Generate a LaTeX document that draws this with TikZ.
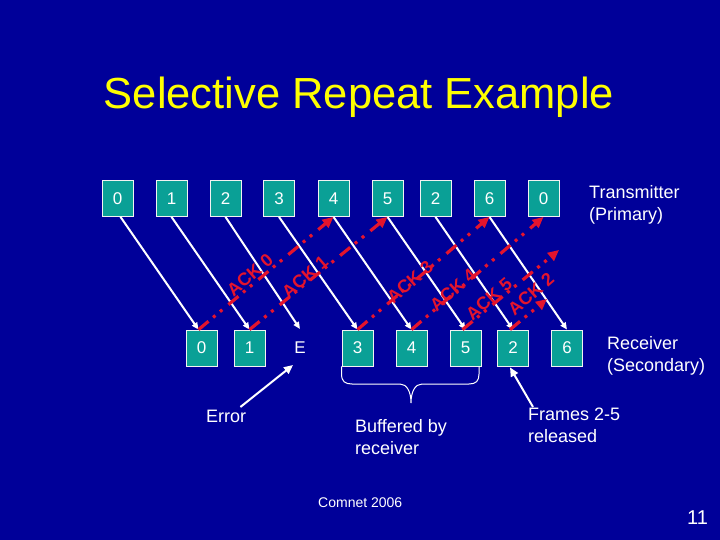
\documentclass[tikz,border=0pt]{standalone}
\usepackage{fontspec}
\setmainfont{Liberation Sans}
\usetikzlibrary{arrows.meta,calc}
\definecolor{bgblue}{RGB}{0,0,153}
\definecolor{boxteal}{RGB}{10,160,150}
\definecolor{ackred}{RGB}{228,20,45}
\definecolor{titleyellow}{RGB}{255,255,0}
\begin{document}
\begin{tikzpicture}[x=1pt,y=-1pt,
  frame/.style={draw=white!90!gray, line width=0.8pt, fill=boxteal, minimum width=31pt,
    minimum height=36pt, inner sep=0pt, text=white, font=\fontsize{17}{20}\selectfont},
  data/.style={draw=white, line width=2pt, -{Triangle[length=7pt,width=6pt]}},
  ack/.style={draw=ackred, line width=3.2pt,
    dash pattern=on 13pt off 6pt on 3pt off 6pt on 3pt off 8pt,
    -{Triangle[length=11pt,width=10pt]}},
  acklabel/.style={text=ackred, rotate=41, font=\fontsize{18}{20}\selectfont\bfseries, inner sep=0pt},
  caption/.style={text=white, font=\fontsize{18}{22}\selectfont, align=left, inner sep=0pt, anchor=north west},
  note/.style={draw=white, line width=2pt, -{Triangle[length=9pt,width=8pt]}}
]
\fill[bgblue] (0,0) rectangle (720,540);
\useasboundingbox (0,0) rectangle (720,540);

% title
\node[anchor=base, text=titleyellow, font=\fontsize{43.5}{48}\selectfont, inner sep=0pt] (title) at (359,109) {Selective Repeat Example};

% top row (transmitter)
\node[frame] (t0)  at (117.5,198.5) {0};
\node[frame] (t1)  at (171.5,198.5) {1};
\node[frame] (t2)  at (225.5,198.5) {2};
\node[frame] (t3)  at (279,198.5) {3};
\node[frame] (t4)  at (333.5,198.5) {4};
\node[frame] (t5)  at (387.5,198.5) {5};
\node[frame] (t2b) at (435.5,198.5) {2};
\node[frame] (t6)  at (489.5,198.5) {6};
\node[frame] (t0b) at (543.5,198.5) {0};

% bottom row (receiver)
\node[frame] (b0) at (201.5,348) {0};
\node[frame] (b1) at (249.5,348) {1};
\node[text=white, font=\fontsize{17}{20}\selectfont, inner sep=0pt] (bE) at (300,348) {E};
\node[frame] (b3) at (357.5,348) {3};
\node[frame] (b4) at (411.5,348) {4};
\node[frame] (b5) at (465.5,348) {5};
\node[frame] (b2) at (513,348) {2};
\node[frame] (b6) at (567,348) {6};
\coordinate (eTop) at (300,329);
\coordinate (ack5end) at (559,250);
\coordinate (ack2end) at (547,299);

% data frames
\draw[data] ($(t0.south)+(3,0)$) -- ($(b0.north)+(-3,0)$);
\draw[data] (t1.south) -- (b1.north);
\draw[data] (t2.south) -- (eTop);
\draw[data] (t3.south) -- (b3.north);
\draw[data] (t4.south) -- (b4.north);
\draw[data] (t5.south) -- (b5.north);
\draw[data] (t2b.south) -- (b2.north);
\draw[data] (t6.south) -- (b6.north);

% acknowledgements
\draw[ack] ($(b0.north)+(-3,0)$) -- (t4.south);
\draw[ack] (b1.north) -- (t5.south);
\draw[ack] (b3.north) -- (t6.south);
\draw[ack] (b4.north) -- (t0b.south);
\draw[ack] ($(b5.north)+(-3,0)$) -- (ack5end);
\draw[ack] ($(b2.north)+(-3,0)$) -- (ack2end);

\node[acklabel] (l0) at (250,275) {ACK 0};
\node[acklabel] (l1) at (305,277) {ACK 1};
\node[acklabel] (l3) at (410,282) {ACK 3};
\node[acklabel] (l4) at (453,290) {ACK 4};
\node[acklabel] (l5) at (489,299) {ACK 5};
\node[acklabel] (l2) at (531,294) {ACK 2};

% captions
\node[caption] (tx) at (589,185) {Transmitter\\(Primary)};
\node[caption] (rx) at (607,336) {Receiver\\(Secondary)};
\node[caption] (err) at (206,410) {Error};
\node[caption] (buf) at (355,419) {Buffered by\\receiver};
\node[caption] (fr) at (528,408) {Frames 2-5\\released};
\node[text=white, font=\fontsize{14}{16}\selectfont, inner sep=0pt, anchor=north west] (cn) at (318,498) {Comnet 2006};
\node[text=white, font=\fontsize{20}{22}\selectfont, inner sep=0pt, anchor=north west] (pg) at (687,511) {11};

% pointers
\draw[note] ($(err.north east)+(-6,-3)$) -- ($(bE.south)+(-7,11)$);
\draw[note] ($(fr.north west)+(5,-1)$) -- ($(b2.south)+(-3,1)$);

% brace under buffered frames
\draw[white, line width=1pt] (b3.south west) -- ++(0,8)
  .. controls +(0,7) and (345,384) .. (352,384) -- (400,384)
  .. controls (407,384) and (411,392) .. (411,403)
  .. controls (411,392) and (415,384) .. (422,384) -- (469,384)
  .. controls (476,384) and (479,381) .. (479,374) -- (479,366);
\end{tikzpicture}
\end{document}
